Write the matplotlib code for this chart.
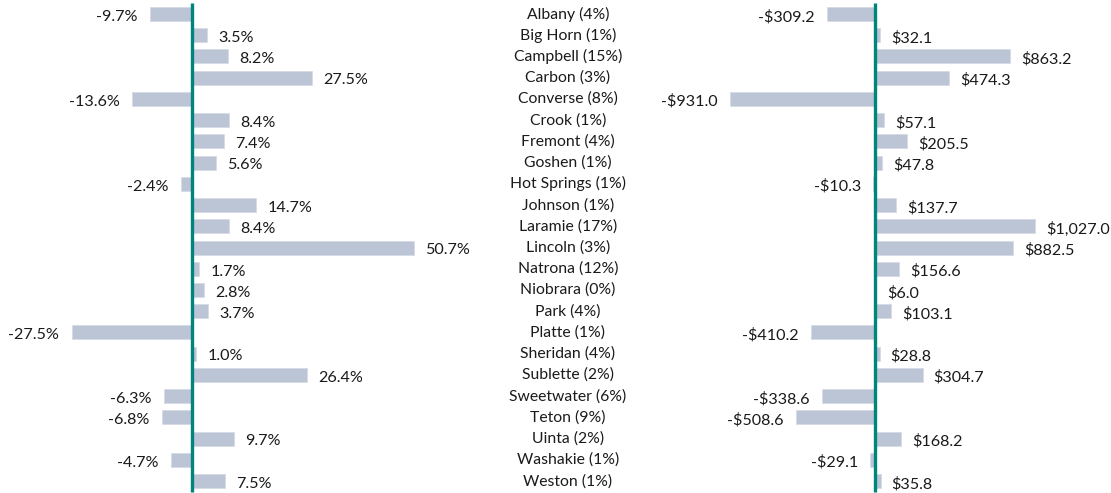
import matplotlib
matplotlib.use("Agg")
import matplotlib.pyplot as plt
import matplotlib.transforms as mtransforms

plt.rcParams['font.family'] = ['Lato', 'DejaVu Sans']

counties = ["Albany (4%)", "Big Horn (1%)", "Campbell (15%)", "Carbon (3%)",
            "Converse (8%)", "Crook (1%)", "Fremont (4%)", "Goshen (1%)",
            "Hot Springs (1%)", "Johnson (1%)", "Laramie (17%)", "Lincoln (3%)",
            "Natrona (12%)", "Niobrara (0%)", "Park (4%)", "Platte (1%)",
            "Sheridan (4%)", "Sublette (2%)", "Sweetwater (6%)", "Teton (9%)",
            "Uinta (2%)", "Washakie (1%)", "Weston (1%)"]
pct_change = [-9.7, 3.5, 8.2, 27.5, -13.6, 8.4, 7.4, 5.6, -2.4, 14.7, 8.4, 50.7,
              1.7, 2.8, 3.7, -27.5, 1.0, 26.4, -6.3, -6.8, 9.7, -4.7, 7.5]
dollar_change = [-309.2, 32.1, 863.2, 474.3, -931.0, 57.1, 205.5, 47.8, -10.3,
                 137.7, 1027.0, 882.5, 156.6, 6.0, 103.1, -410.2, 28.8, 304.7,
                 -338.6, -508.6, 168.2, -29.1, 35.8]

bar_color = "#BCC5D6"
line_color = "#00857C"
W, H = 1111, 493

fig = plt.figure(figsize=(W / 100, H / 100), dpi=100)
ax1 = fig.add_axes([0, 0, 470 / W, 1])
ax2 = fig.add_axes([620 / W, 0, 491 / W, 1])

y = list(range(len(counties)))
ylim = (22.56, -0.66)


def fmt_pct(v):
    return f"{v:.1f}%"


def fmt_dollar(v):
    s = f"${abs(v):,.1f}"
    return "-" + s if v < 0 else s


for ax, vals, fmt, xlim in [(ax1, pct_change, fmt_pct, (-43.9, 63.6)),
                            (ax2, dollar_change, fmt_dollar, (-1635, 1513))]:
    ax.barh(y, vals, height=0.66, color=bar_color, edgecolor="#D5DBE6", linewidth=0.6)
    ax.plot([0, 0], [-0.5, 22.5], color=line_color, lw=2.4, solid_capstyle="butt")
    for yi, v in zip(y, vals):
        off = 8 if v >= 0 else -9
        ax.annotate(fmt(v), (v, yi), xytext=(off, -2), textcoords="offset points",
                    ha="left" if v >= 0 else "right", va="center", fontsize=11.6,
                    color="#1a1a1a")
    ax.set_xlim(*xlim)
    ax.set_ylim(*ylim)
    ax.axis("off")

trans = mtransforms.blended_transform_factory(fig.transFigure, ax1.transData)
for yi, name in zip(y, counties):
    ax1.text(568 / W, yi, name, transform=trans, ha="center", va="center",
             fontsize=11.3, color="#1a1a1a", clip_on=False)

fig.savefig("out.png", dpi=100)
